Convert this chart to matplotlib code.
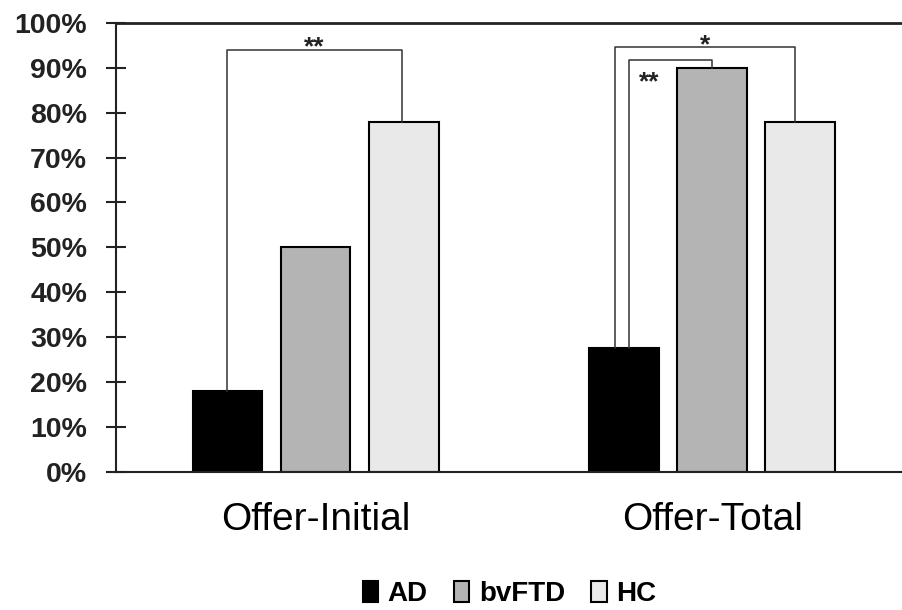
import numpy as np
import matplotlib
matplotlib.use("Agg")
import matplotlib.pyplot as plt
from matplotlib.ticker import FuncFormatter

plt.rcParams['font.family'] = ['Liberation Sans', 'DejaVu Sans']

# data
categories = ['Offer-Initial', 'Offer-Total']
groups = ['AD', 'bvFTD', 'HC']
ad = [18, 27.5]
bvftd = [50, 90]
hc = [78, 78]
colors = ['#000000', '#b4b4b4', '#e9e9e9']

# significance brackets: (category, from group, to group, height %, label)
brackets = [
    (0, 0, 2, 94.0, '**'),
    (1, 0, 2, 94.6, '*'),
    (1, 0, 1, 91.7, '**'),
]
leg_shift = [(0.0, -0.005), (-0.023, -0.013), (0.013, 0.0)]

series = [ad, bvftd, hc]
x = np.arange(len(categories))
offsets = [-0.222, 0.0, 0.222]
width = 0.176

fig = plt.figure(figsize=(9.03, 6.10), dpi=100)
ax = fig.add_axes([0.1285, 0.2267, 0.8715, 0.7358])

for vals, off, col, name in zip(series, offsets, colors, groups):
    ax.bar(x + off, vals, width, color=col, edgecolor='black', linewidth=1.5, label=name, zorder=2)

# brackets
for (cat, g1, g2, h, lab), (s1, s2) in zip(brackets, leg_shift):
    x1 = x[cat] + offsets[g1] + s1
    x2 = x[cat] + offsets[g2] + s2
    y1 = series[g1][cat]
    y2 = series[g2][cat]
    ax.plot([x1, x1, x2, x2], [y1, h, h, y2], color='#333333', lw=1.1, zorder=3)
    if g2 - g1 == 2:
        ax.annotate(lab, ((x1 + x2) / 2, h), xytext=(0, -3.5), textcoords='offset points',
                    ha='center', va='baseline', fontsize=19, fontweight='bold', color='#222222')
    else:
        ax.annotate(lab, (x1, h), xytext=(7, -21), textcoords='offset points',
                    ha='left', va='baseline', fontsize=19, fontweight='bold', color='#222222')

ax.set_ylim(0, 100)
ax.set_xlim(-0.503, 1.481)
ax.set_yticks(np.arange(0, 101, 10))
ax.yaxis.set_major_formatter(FuncFormatter(lambda v, p: '%d%%' % v))
ax.set_xticks(x)
ax.set_xticklabels(categories, fontsize=28)
ax.tick_params(axis='x', length=0, pad=22)
ax.tick_params(axis='y', direction='inout', length=13.7, width=1.5, pad=14,
               labelsize=20.5, labelcolor='#222222', colors='#222222')
for lbl in ax.get_yticklabels():
    lbl.set_fontweight('bold')

ax.spines['right'].set_visible(False)
for s in ['left', 'top', 'bottom']:
    ax.spines[s].set_linewidth(1.5)
    ax.spines[s].set_color('#222222')
ax.spines['top'].set_linewidth(2.0)

ax.legend(loc='center', bbox_to_anchor=(0.5, -0.273), ncol=3, frameon=False,
          prop={'size': 20, 'weight': 'bold'}, handlelength=0.55, handleheight=0.75,
          handletextpad=0.35, columnspacing=0.95)

fig.savefig('out.png', dpi=100)
